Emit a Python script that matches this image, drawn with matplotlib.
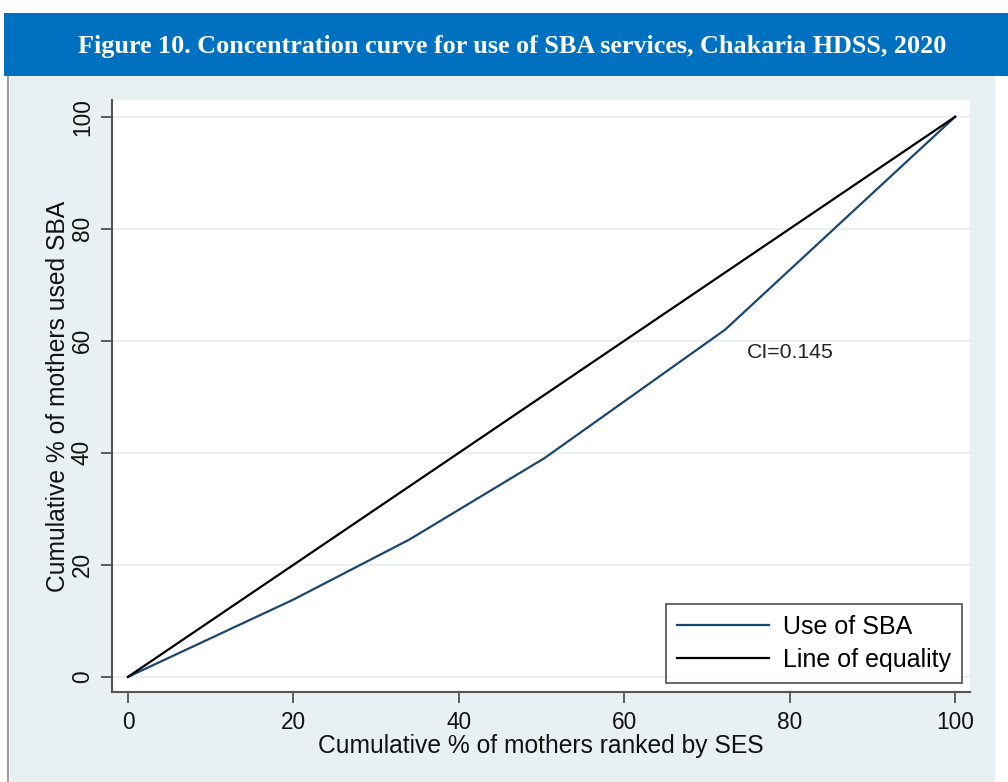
import matplotlib
matplotlib.use("Agg")
import matplotlib.pyplot as plt
from matplotlib.patches import Rectangle
from matplotlib.lines import Line2D

# Concentration curve data (cumulative % of mothers ranked by SES vs cumulative % using SBA)
ses_cum = [0, 20, 34, 50.4, 72.2, 100]
sba_cum = [0, 13.8, 24.5, 39.1, 62.0, 100]
equality_x = [0, 100]
equality_y = [0, 100]
x_ticks = [0, 20, 40, 60, 80, 100]
y_ticks = [0, 20, 40, 60, 80, 100]
ci_label = "CI=0.145"
title = "Figure 10. Concentration curve for use of SBA services, Chakaria HDSS, 2020"

W, H = 1008, 782
plt.rcParams["font.family"] = ["Liberation Sans", "DejaVu Sans"]
fig = plt.figure(figsize=(W / 100, H / 100), dpi=100, facecolor="white")

def px(x0, y0, x1, y1):
    # convert pixel box (top-left origin) to figure fraction rectangle args
    return (x0 / W, 1 - y1 / H), (x1 - x0) / W, (y1 - y0) / H

# light panel behind the chart
xy, w, h = px(10, 76, 995, 782)
fig.patches.append(Rectangle(xy, w, h, transform=fig.transFigure,
                             facecolor="#e8f0f3", edgecolor="none", zorder=-5))
# thin border line on the left of the panel
fig.add_artist(Line2D([8 / W, 8 / W], [0, 1 - 76 / H], transform=fig.transFigure,
                      color="#8a8a8a", lw=1.2, zorder=-4))
# title banner
xy, w, h = px(4, 13, 1008, 76)
fig.patches.append(Rectangle(xy, w, h, transform=fig.transFigure,
                             facecolor="#0070c0", edgecolor="none", zorder=-4))
fig.text(512 / W, 1 - 46 / H, title, color="white", fontsize=18.8,
         fontweight="bold", family=["Liberation Serif", "DejaVu Serif"],
         ha="center", va="center")

ax = fig.add_axes([112 / W, 1 - 692 / H, (970 - 112) / W, (692 - 100) / H])
ax.set_zorder(2)
ax.set_facecolor("white")
ax.set_xlim(-1.93, 101.8)
ax.set_ylim(-2.7, 103.0)

ax.grid(axis="y", color="#e8f0f2", lw=1.5, zorder=0)
ax.set_axisbelow(True)

ax.plot(ses_cum, sba_cum, color="#1a476f", lw=1.6, label="Use of SBA", zorder=3)
ax.plot(equality_x, equality_y, color="black", lw=1.6, label="Line of equality", zorder=3)

ax.text(74.8, 58.0, ci_label, fontsize=15.3, color="#222222", ha="left", va="center")

ax.set_xticks(x_ticks)
ax.set_yticks(y_ticks)
ax.set_yticklabels([str(v) for v in y_ticks], rotation=90, va="center")
ax.tick_params(axis="both", labelsize=16.3, length=8, width=1.2, color="#444444",
               labelcolor="#111111")
ax.tick_params(axis="x", pad=6)
ax.tick_params(axis="y", pad=5)

for s in ["top", "right"]:
    ax.spines[s].set_visible(False)
for s in ["left", "bottom"]:
    ax.spines[s].set_color("#555555")
    ax.spines[s].set_linewidth(1.5)

ax.set_xlabel("Cumulative % of mothers ranked by SES", fontsize=17.7, color="#111111",
              labelpad=0)
ax.set_ylabel("Cumulative % of mothers used SBA", fontsize=17.7, color="#111111",
              labelpad=1)

leg = ax.legend(loc="lower right", bbox_to_anchor=(0.991, 0.015), fontsize=18,
                frameon=True, fancybox=False, edgecolor="#222222",
                handlelength=3.7, handletextpad=0.55, borderpad=0.45,
                labelspacing=0.35, borderaxespad=0)
leg.get_frame().set_linewidth(1.2)

fig.savefig("out.png", dpi=100, facecolor="white")
